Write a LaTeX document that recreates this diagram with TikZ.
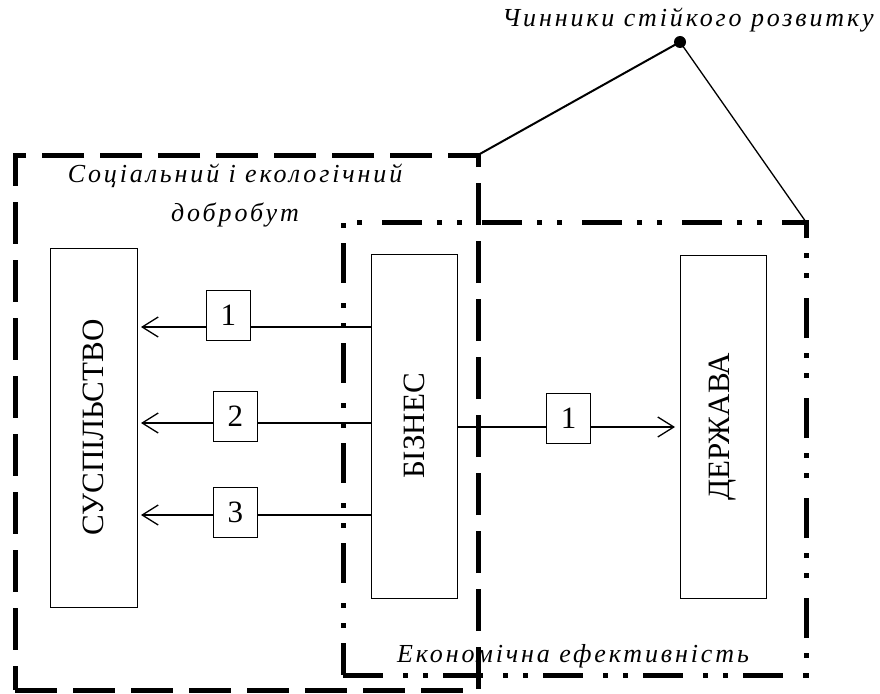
\documentclass[tikz,border=0pt]{standalone}
\usepackage{fontspec}
\setmainfont{Liberation Serif}
\newfontfamily\spacedit[LetterSpace=11]{Liberation Serif}
\usepackage{graphicx}
\usetikzlibrary{arrows.meta}

\begin{document}
\begin{tikzpicture}[x=1pt,y=-1pt,
  block/.style={draw,line width=1pt,inner sep=0pt,outer sep=0pt,font=\fontsize{31}{31}\selectfont},
  num/.style={draw,fill=white,line width=1pt,minimum width=44pt,minimum height=50pt,inner sep=0pt,font=\fontsize{31}{31}\selectfont},
  flow/.style={line width=1.3pt,-{Straight Barb[length=16pt,width=20pt]}},
  note/.style={font=\spacedit\itshape\fontsize{26}{39}\selectfont},
  welfarebox/.style={draw,line width=5pt,dash pattern=on 42pt off 16pt,inner sep=0pt,outer sep=0pt},
  efficiencybox/.style={draw,line width=5pt,dash pattern=on 40pt off 20pt on 5pt off 15pt on 5pt off 15pt,inner sep=0pt,outer sep=0pt}]
\useasboundingbox (0,0) rectangle (880,693);
%
\node [welfarebox,minimum width=463pt,minimum height=535pt] (welfare) at (246.5,422.5) {};
\node [efficiencybox,minimum width=463pt,minimum height=453pt] (efficiency) at (574.5,448.5) {};
%
\node [circle,fill,inner sep=0pt,minimum size=12pt] (factors) at (680,42) {};
\node [note,anchor=base] (factorslabel) at (688,27) {Чинники стійкого розвитку};
\draw [line width=2pt] (welfare.north east) -- (factors.center);
\draw [line width=1.3pt] (factors.center) -- (efficiency.north east);
%
\node [note,align=center,anchor=base] (welfarelabel) at (235,221) {Соціальний і екологічний\\добробут};
\node [note,anchor=base] (efficiencylabel) at (573,662) {Економічна ефективність};
%
\node [block,minimum width=87pt,minimum height=359pt] (society) at (93.5,427.5) {\rotatebox{90}{СУСПІЛЬСТВО}};
\node [block,minimum width=86pt,minimum height=344pt] (business) at (414,426) {\rotatebox{90}{БІЗНЕС}};
\node [block,minimum width=86pt,minimum height=343pt] (state) at (723,426.5) {\rotatebox{90}{ДЕРЖАВА}};
%
\draw [flow,shorten >=4pt] (business.west |- 0,327) -- node [num,pos=0.61,yshift=12pt] {1} (society.east |- 0,327);
\draw [flow,shorten >=4pt] (business.west |- 0,423) -- node [num,pos=0.58,yshift=7pt] {2} (society.east |- 0,423);
\draw [flow,shorten >=4pt] (business.west |- 0,515) -- node [num,pos=0.58,yshift=3pt] {3} (society.east |- 0,515);
\draw [flow,shorten >=5pt] (business.east |- 0,427) -- node [num,yshift=9pt] {1} (state.west |- 0,427);
\end{tikzpicture}
\end{document}
